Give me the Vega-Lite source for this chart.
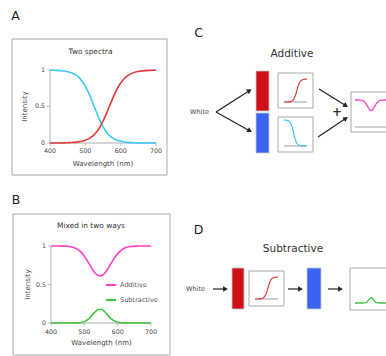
{
 "$schema": "https://vega.github.io/schema/vega-lite/v6.json",
 "width": 386, "height": 356, "autosize": {"type": "none"}, "padding": 0,
 "background": "white",
 "config": {"view": {"stroke": null}, "font": "DejaVu Sans"},
 "datasets": {
  "spec": [
   {"w":400,"red":0.000,"blue":0.998,"Additive":1.000,"Subtractive":0.000},
   {"w":410,"red":0.001,"blue":0.997,"Additive":1.000,"Subtractive":0.000},
   {"w":420,"red":0.001,"blue":0.995,"Additive":1.000,"Subtractive":0.000},
   {"w":430,"red":0.001,"blue":0.991,"Additive":0.999,"Subtractive":0.000},
   {"w":440,"red":0.002,"blue":0.986,"Additive":0.999,"Subtractive":0.000},
   {"w":450,"red":0.004,"blue":0.977,"Additive":0.996,"Subtractive":0.000},
   {"w":460,"red":0.006,"blue":0.963,"Additive":0.990,"Subtractive":0.000},
   {"w":470,"red":0.009,"blue":0.940,"Additive":0.978,"Subtractive":0.000},
   {"w":480,"red":0.015,"blue":0.905,"Additive":0.956,"Subtractive":0.002},
   {"w":490,"red":0.024,"blue":0.852,"Additive":0.920,"Subtractive":0.006},
   {"w":500,"red":0.038,"blue":0.777,"Additive":0.867,"Subtractive":0.018},
   {"w":510,"red":0.060,"blue":0.679,"Additive":0.800,"Subtractive":0.044},
   {"w":520,"red":0.092,"blue":0.562,"Additive":0.727,"Subtractive":0.085},
   {"w":530,"red":0.141,"blue":0.438,"Additive":0.661,"Subtractive":0.134},
   {"w":540,"red":0.209,"blue":0.321,"Additive":0.619,"Subtractive":0.171},
   {"w":550,"red":0.298,"blue":0.223,"Additive":0.612,"Subtractive":0.178},
   {"w":560,"red":0.406,"blue":0.148,"Additive":0.641,"Subtractive":0.151},
   {"w":570,"red":0.524,"blue":0.095,"Additive":0.699,"Subtractive":0.104},
   {"w":580,"red":0.639,"blue":0.060,"Additive":0.771,"Subtractive":0.058},
   {"w":590,"red":0.740,"blue":0.037,"Additive":0.842,"Subtractive":0.027},
   {"w":600,"red":0.821,"blue":0.023,"Additive":0.901,"Subtractive":0.010},
   {"w":610,"red":0.881,"blue":0.014,"Additive":0.944,"Subtractive":0.003},
   {"w":620,"red":0.922,"blue":0.009,"Additive":0.971,"Subtractive":0.001},
   {"w":630,"red":0.950,"blue":0.005,"Additive":0.986,"Subtractive":0.000},
   {"w":640,"red":0.969,"blue":0.003,"Additive":0.994,"Subtractive":0.000},
   {"w":650,"red":0.980,"blue":0.002,"Additive":0.998,"Subtractive":0.000},
   {"w":660,"red":0.988,"blue":0.001,"Additive":0.999,"Subtractive":0.000},
   {"w":670,"red":0.992,"blue":0.001,"Additive":1.000,"Subtractive":0.000},
   {"w":680,"red":0.995,"blue":0.000,"Additive":1.000,"Subtractive":0.000},
   {"w":690,"red":0.997,"blue":0.000,"Additive":1.000,"Subtractive":0.000},
   {"w":700,"red":0.998,"blue":0.000,"Additive":1.000,"Subtractive":0.000}
  ],
  "wticks": [{"w":400},{"w":500},{"w":600},{"w":700}],
  "vticks": [{"v":0},{"v":0.5},{"v":1}]
 },
 "resolve": {"scale": {"x": "independent", "y": "independent", "color": "independent"}},
 "layer": [
  {
   "layer": [
    {"data": {"values": [{"x":12,"x2":167,"y":39,"y2":175},{"x":13,"x2":170,"y":214,"y2":355}]},
     "mark": {"type": "rect", "fill": null, "stroke": "#aaaaaa", "strokeWidth": 1},
     "encoding": {"x": {"field":"x","type":"quantitative","scale":{"domain":[0,386],"nice":false,"zero":false},"axis":null}, "x2": {"field":"x2"}, "y": {"field":"y","type":"quantitative","scale":{"domain":[0,356],"reverse":true,"nice":false,"zero":false},"axis":null}, "y2": {"field":"y2"}}},
    {"data": {"values": [{"x":278,"x2":313,"y":73,"y2":108},{"x":278,"x2":313,"y":117,"y2":152},{"x":351,"x2":395,"y":92,"y2":132},{"x":249,"x2":284,"y":271,"y2":306},{"x":350,"x2":395,"y":268,"y2":310}]},
     "mark": {"type": "rect", "fill": "white", "stroke": "#aaaaaa", "strokeWidth": 1},
     "encoding": {"x": {"field":"x","type":"quantitative","scale":{"domain":[0,386],"nice":false,"zero":false},"axis":null}, "x2": {"field":"x2"}, "y": {"field":"y","type":"quantitative","scale":{"domain":[0,356],"reverse":true,"nice":false,"zero":false},"axis":null}, "y2": {"field":"y2"}}},
    {"data": {"values": [{"x":256,"x2":269,"y":71,"y2":111},{"x":232,"x2":244,"y":268,"y2":309}]},
     "mark": {"type": "rect", "fill": "#d10f19", "stroke": "#c8c8c8", "strokeWidth": 0.8},
     "encoding": {"x": {"field":"x","type":"quantitative","scale":{"domain":[0,386],"nice":false,"zero":false},"axis":null}, "x2": {"field":"x2"}, "y": {"field":"y","type":"quantitative","scale":{"domain":[0,356],"reverse":true,"nice":false,"zero":false},"axis":null}, "y2": {"field":"y2"}}},
    {"data": {"values": [{"x":256,"x2":269,"y":113,"y2":153},{"x":307,"x2":321,"y":268,"y2":309}]},
     "mark": {"type": "rect", "fill": "#3b63f3", "stroke": "#c8c8c8", "strokeWidth": 0.8},
     "encoding": {"x": {"field":"x","type":"quantitative","scale":{"domain":[0,386],"nice":false,"zero":false},"axis":null}, "x2": {"field":"x2"}, "y": {"field":"y","type":"quantitative","scale":{"domain":[0,356],"reverse":true,"nice":false,"zero":false},"axis":null}, "y2": {"field":"y2"}}},
    {"data": {"values": [{"x":216,"y":112,"x2":250,"y2":90.3},{"x":216,"y":112,"x2":250,"y2":130.9},{"x":319,"y":89,"x2":346,"y2":105.8},{"x":318,"y":137,"x2":346,"y2":118.3},{"x":213,"y":289,"x2":226,"y2":289},{"x":288,"y":289,"x2":301,"y2":289},{"x":328,"y":289,"x2":341,"y2":289}]},
     "mark": {"type": "rule", "color": "#222222", "strokeWidth": 1.2},
     "encoding": {"x": {"field":"x","type":"quantitative","scale":{"domain":[0,386],"nice":false,"zero":false},"axis":null}, "x2": {"field":"x2"}, "y": {"field":"y","type":"quantitative","scale":{"domain":[0,356],"reverse":true,"nice":false,"zero":false},"axis":null}, "y2": {"field":"y2"}}},
    {"data": {"values": [{"x":249.5,"y":90.6,"a":-32.6},{"x":249.8,"y":130.8,"a":29.1},{"x":345.9,"y":105.7,"a":31.8},{"x":345.9,"y":118.4,"a":-33.7},{"x":225.5,"y":289,"a":0},{"x":300.5,"y":289,"a":0},{"x":340.5,"y":289,"a":0}]},
     "mark": {"type": "point", "shape": "triangle-right", "filled": true, "size": 30, "color": "#222222", "opacity": 1},
     "encoding": {"x": {"field":"x","type":"quantitative","scale":{"domain":[0,386],"nice":false,"zero":false},"axis":null}, "y": {"field":"y","type":"quantitative","scale":{"domain":[0,356],"reverse":true,"nice":false,"zero":false},"axis":null}, "angle": {"field":"a","type":"quantitative","scale":null}}},
    {"data": {"values": [{"x":15.5,"y":15.5,"t":"A"},{"x":16,"y":199.5,"t":"B"},{"x":198.5,"y":33,"t":"C"},{"x":198.5,"y":229.5,"t":"D"}]},
     "mark": {"type": "text", "font": "DejaVu Sans", "fontSize": 12.5, "color": "#222222", "align": "center", "baseline": "middle"},
     "encoding": {"x": {"field":"x","type":"quantitative","scale":{"domain":[0,386],"nice":false,"zero":false},"axis":null}, "y": {"field":"y","type":"quantitative","scale":{"domain":[0,356],"reverse":true,"nice":false,"zero":false},"axis":null}, "text": {"field":"t"}}},
    {"data": {"values": [{"x":292,"y":54,"t":"Additive"},{"x":293,"y":249,"t":"Subtractive"}]},
     "mark": {"type": "text", "font": "DejaVu Sans", "fontSize": 10.5, "color": "#333333", "align": "center", "baseline": "middle"},
     "encoding": {"x": {"field":"x","type":"quantitative","scale":{"domain":[0,386],"nice":false,"zero":false},"axis":null}, "y": {"field":"y","type":"quantitative","scale":{"domain":[0,356],"reverse":true,"nice":false,"zero":false},"axis":null}, "text": {"field":"t"}}},
    {"data": {"values": [{"x":90.5,"y":52,"t":"Two spectra"},{"x":91,"y":226,"t":"Mixed in two ways"}]},
     "mark": {"type": "text", "font": "DejaVu Sans", "fontSize": 7.4, "color": "#333333", "align": "center", "baseline": "middle"},
     "encoding": {"x": {"field":"x","type":"quantitative","scale":{"domain":[0,386],"nice":false,"zero":false},"axis":null}, "y": {"field":"y","type":"quantitative","scale":{"domain":[0,356],"reverse":true,"nice":false,"zero":false},"axis":null}, "text": {"field":"t"}}},
    {"data": {"values": [{"x":103,"y":164,"t":"Wavelength (nm)"},{"x":101.5,"y":343,"t":"Wavelength (nm)"}]},
     "mark": {"type": "text", "font": "DejaVu Sans", "fontSize": 7, "color": "#444444", "align": "center", "baseline": "middle"},
     "encoding": {"x": {"field":"x","type":"quantitative","scale":{"domain":[0,386],"nice":false,"zero":false},"axis":null}, "y": {"field":"y","type":"quantitative","scale":{"domain":[0,356],"reverse":true,"nice":false,"zero":false},"axis":null}, "text": {"field":"t"}}},
    {"data": {"values": [{"x":25,"y":106.5,"t":"Intensity"},{"x":27.5,"y":284.5,"t":"Intensity"}]},
     "mark": {"type": "text", "font": "DejaVu Sans", "fontSize": 7, "color": "#444444", "align": "center", "baseline": "middle", "angle": 270},
     "encoding": {"x": {"field":"x","type":"quantitative","scale":{"domain":[0,386],"nice":false,"zero":false},"axis":null}, "y": {"field":"y","type":"quantitative","scale":{"domain":[0,356],"reverse":true,"nice":false,"zero":false},"axis":null}, "text": {"field":"t"}}},
    {"data": {"values": [{"x":199.5,"y":112,"t":"White"},{"x":195.5,"y":289,"t":"White"}]},
     "mark": {"type": "text", "font": "DejaVu Sans", "fontSize": 6.5, "color": "#444444", "align": "center", "baseline": "middle"},
     "encoding": {"x": {"field":"x","type":"quantitative","scale":{"domain":[0,386],"nice":false,"zero":false},"axis":null}, "y": {"field":"y","type":"quantitative","scale":{"domain":[0,356],"reverse":true,"nice":false,"zero":false},"axis":null}, "text": {"field":"t"}}},
    {"data": {"values": [{"x":337,"y":112,"t":"+"}]},
     "mark": {"type": "text", "font": "DejaVu Sans", "fontSize": 12, "fontWeight": "bold", "color": "#333333", "align": "center", "baseline": "middle"},
     "encoding": {"x": {"field":"x","type":"quantitative","scale":{"domain":[0,386],"nice":false,"zero":false},"axis":null}, "y": {"field":"y","type":"quantitative","scale":{"domain":[0,356],"reverse":true,"nice":false,"zero":false},"axis":null}, "text": {"field":"t"}}}
   ]
  },
  {
   "layer": [
    {"data": {"values": [{}]}, "mark": {"type": "rule", "color": "#c8c8c8", "strokeWidth": 1.5},
     "encoding": {"x": {"datum":400,"type":"quantitative","scale":{"domain":[258.49,1350.94],"nice":false,"zero":false},"axis":null}, "x2": {"datum":700}, "y": {"datum":0,"type":"quantitative","scale":{"domain":[-2.9178,1.9589],"nice":false,"zero":false},"axis":null}}},
    {"data": {"values": [{}]}, "mark": {"type": "rule", "color": "#b4b4b4", "strokeWidth": 1},
     "encoding": {"x": {"datum":400,"type":"quantitative","scale":{"domain":[258.49,1350.94],"nice":false,"zero":false},"axis":null}, "y": {"datum":0,"type":"quantitative","scale":{"domain":[-2.9178,1.9589],"nice":false,"zero":false},"axis":null}, "y2": {"datum":1}}},
    {"data": {"name": "wticks"}, "mark": {"type": "tick", "orient": "vertical", "size": 3, "thickness": 1, "color": "#a8a8a8", "yOffset": 1.5},
     "encoding": {"x": {"field":"w","type":"quantitative","scale":{"domain":[258.49,1350.94],"nice":false,"zero":false},"axis":null}, "y": {"datum":0,"type":"quantitative","scale":{"domain":[-2.9178,1.9589],"nice":false,"zero":false},"axis":null}}},
    {"data": {"name": "wticks"}, "mark": {"type": "text", "fontSize": 6.3, "color": "#444444", "align": "center", "baseline": "middle", "dy": 8},
     "encoding": {"x": {"field":"w","type":"quantitative","scale":{"domain":[258.49,1350.94],"nice":false,"zero":false},"axis":null}, "y": {"datum":0,"type":"quantitative","scale":{"domain":[-2.9178,1.9589],"nice":false,"zero":false},"axis":null}, "text": {"field":"w","type":"quantitative","format":"d"}}},
    {"data": {"name": "vticks"}, "mark": {"type": "tick", "orient": "horizontal", "size": 3, "thickness": 1, "color": "#a8a8a8", "xOffset": -1.5},
     "encoding": {"x": {"datum":400,"type":"quantitative","scale":{"domain":[258.49,1350.94],"nice":false,"zero":false},"axis":null}, "y": {"field":"v","type":"quantitative","scale":{"domain":[-2.9178,1.9589],"nice":false,"zero":false},"axis":null}}},
    {"data": {"name": "vticks"}, "mark": {"type": "text", "fontSize": 6.3, "color": "#444444", "align": "right", "baseline": "middle", "dx": -5},
     "encoding": {"x": {"datum":400,"type":"quantitative","scale":{"domain":[258.49,1350.94],"nice":false,"zero":false},"axis":null}, "y": {"field":"v","type":"quantitative","scale":{"domain":[-2.9178,1.9589],"nice":false,"zero":false},"axis":null}, "text": {"field":"v","type":"quantitative","format":"~g"}}},
    {"data": {"name": "spec"}, "mark": {"type": "line", "color": "#3cc8f5", "strokeWidth": 1.6, "interpolate": "monotone"},
     "encoding": {"x": {"field":"w","type":"quantitative","scale":{"domain":[258.49,1350.94],"nice":false,"zero":false},"axis":null}, "y": {"field":"blue","type":"quantitative","scale":{"domain":[-2.9178,1.9589],"nice":false,"zero":false},"axis":null}}},
    {"data": {"name": "spec"}, "mark": {"type": "line", "color": "#e23a3a", "strokeWidth": 1.6, "interpolate": "monotone"},
     "encoding": {"x": {"field":"w","type":"quantitative","scale":{"domain":[258.49,1350.94],"nice":false,"zero":false},"axis":null}, "y": {"field":"red","type":"quantitative","scale":{"domain":[-2.9178,1.9589],"nice":false,"zero":false},"axis":null}}}
   ]
  },
  {
   "layer": [
    {"data": {"values": [{}]}, "mark": {"type": "rule", "color": "#c8c8c8", "strokeWidth": 1.5},
     "encoding": {"x": {"datum":400,"type":"quantitative","scale":{"domain":[247,1405],"nice":false,"zero":false},"axis":null}, "x2": {"datum":700}, "y": {"datum":0,"type":"quantitative","scale":{"domain":[-0.42857,4.19481],"nice":false,"zero":false},"axis":null}}},
    {"data": {"values": [{}]}, "mark": {"type": "rule", "color": "#b4b4b4", "strokeWidth": 1},
     "encoding": {"x": {"datum":400,"type":"quantitative","scale":{"domain":[247,1405],"nice":false,"zero":false},"axis":null}, "y": {"datum":0,"type":"quantitative","scale":{"domain":[-0.42857,4.19481],"nice":false,"zero":false},"axis":null}, "y2": {"datum":1}}},
    {"data": {"name": "wticks"}, "mark": {"type": "tick", "orient": "vertical", "size": 3, "thickness": 1, "color": "#a8a8a8", "yOffset": 1.5},
     "encoding": {"x": {"field":"w","type":"quantitative","scale":{"domain":[247,1405],"nice":false,"zero":false},"axis":null}, "y": {"datum":0,"type":"quantitative","scale":{"domain":[-0.42857,4.19481],"nice":false,"zero":false},"axis":null}}},
    {"data": {"name": "wticks"}, "mark": {"type": "text", "fontSize": 6.3, "color": "#444444", "align": "center", "baseline": "middle", "dy": 9},
     "encoding": {"x": {"field":"w","type":"quantitative","scale":{"domain":[247,1405],"nice":false,"zero":false},"axis":null}, "y": {"datum":0,"type":"quantitative","scale":{"domain":[-0.42857,4.19481],"nice":false,"zero":false},"axis":null}, "text": {"field":"w","type":"quantitative","format":"d"}}},
    {"data": {"name": "vticks"}, "mark": {"type": "tick", "orient": "horizontal", "size": 3, "thickness": 1, "color": "#a8a8a8", "xOffset": -1.5},
     "encoding": {"x": {"datum":400,"type":"quantitative","scale":{"domain":[247,1405],"nice":false,"zero":false},"axis":null}, "y": {"field":"v","type":"quantitative","scale":{"domain":[-0.42857,4.19481],"nice":false,"zero":false},"axis":null}}},
    {"data": {"name": "vticks"}, "mark": {"type": "text", "fontSize": 6.3, "color": "#444444", "align": "right", "baseline": "middle", "dx": -5},
     "encoding": {"x": {"datum":400,"type":"quantitative","scale":{"domain":[247,1405],"nice":false,"zero":false},"axis":null}, "y": {"field":"v","type":"quantitative","scale":{"domain":[-0.42857,4.19481],"nice":false,"zero":false},"axis":null}, "text": {"field":"v","type":"quantitative","format":"~g"}}},
    {"data": {"name": "spec"}, "transform": [{"fold": ["Additive", "Subtractive"], "as": ["series", "v"]}],
     "mark": {"type": "line", "strokeWidth": 1.6, "interpolate": "monotone"},
     "encoding": {"x": {"field":"w","type":"quantitative","scale":{"domain":[247,1405],"nice":false,"zero":false},"axis":null}, "y": {"field":"v","type":"quantitative","scale":{"domain":[-0.42857,4.19481],"nice":false,"zero":false},"axis":null},
      "color": {"field":"series","type":"nominal","scale":{"domain":["Additive","Subtractive"],"range":["#ff3fc8","#3ec43e"]},"legend":{"orient":"none","legendX":105,"legendY":279,"direction":"vertical","title":null,"symbolType":"stroke","symbolStrokeWidth":2,"symbolSize":100,"labelFont":"DejaVu Sans","labelFontSize":6.6,"labelColor":"#555555","labelOffset":3,"rowPadding":5,"padding":0}}}}
   ]
  },
  {
   "layer": [
    {"data": {"values": [{}]}, "mark": {"type": "rule", "color": "#a0a0a0", "strokeWidth": 1},
     "encoding": {"x": {"datum":400,"type":"quantitative","scale":{"domain":[-3304.3,1730.5],"nice":false,"zero":false},"axis":null}, "x2": {"datum":700}, "y": {"datum":0,"type":"quantitative","scale":{"domain":[-11.0435,4.43478],"nice":false,"zero":false},"axis":null}}},
    {"data": {"name": "spec"}, "mark": {"type": "line", "color": "#e23a3a", "strokeWidth": 1.2, "interpolate": "monotone"},
     "encoding": {"x": {"field":"w","type":"quantitative","scale":{"domain":[-3304.3,1730.5],"nice":false,"zero":false},"axis":null}, "y": {"field":"red","type":"quantitative","scale":{"domain":[-11.0435,4.43478],"nice":false,"zero":false},"axis":null}}}
   ]
  },
  {
   "layer": [
    {"data": {"values": [{}]}, "mark": {"type": "rule", "color": "#a0a0a0", "strokeWidth": 1},
     "encoding": {"x": {"datum":400,"type":"quantitative","scale":{"domain":[-3304.3,1730.5],"nice":false,"zero":false},"axis":null}, "x2": {"datum":700}, "y": {"datum":0,"type":"quantitative","scale":{"domain":[-8.0769,5.6154],"nice":false,"zero":false},"axis":null}}},
    {"data": {"name": "spec"}, "mark": {"type": "line", "color": "#3cc8f5", "strokeWidth": 1.2, "interpolate": "monotone"},
     "encoding": {"x": {"field":"w","type":"quantitative","scale":{"domain":[-3304.3,1730.5],"nice":false,"zero":false},"axis":null}, "y": {"field":"blue","type":"quantitative","scale":{"domain":[-8.0769,5.6154],"nice":false,"zero":false},"axis":null}}}
   ]
  },
  {
   "layer": [
    {"data": {"values": [{}]}, "mark": {"type": "rule", "color": "#a0a0a0", "strokeWidth": 1},
     "encoding": {"x": {"datum":400,"type":"quantitative","scale":{"domain":[-2827.27,681.82],"nice":false,"zero":false},"axis":null}, "x2": {"datum":700}, "y": {"datum":0,"type":"quantitative","scale":{"domain":[-8.4815,4.7037],"nice":false,"zero":false},"axis":null}}},
    {"data": {"name": "spec"}, "mark": {"type": "line", "color": "#ff3fc8", "strokeWidth": 1.3, "interpolate": "monotone"},
     "encoding": {"x": {"field":"w","type":"quantitative","scale":{"domain":[-2827.27,681.82],"nice":false,"zero":false},"axis":null}, "y": {"field":"Additive","type":"quantitative","scale":{"domain":[-8.4815,4.7037],"nice":false,"zero":false},"axis":null}}}
   ]
  },
  {
   "layer": [
    {"data": {"values": [{}]}, "mark": {"type": "rule", "color": "#a0a0a0", "strokeWidth": 1},
     "encoding": {"x": {"datum":400,"type":"quantitative","scale":{"domain":[-2926.1,2108.7],"nice":false,"zero":false},"axis":null}, "x2": {"datum":700}, "y": {"datum":0,"type":"quantitative","scale":{"domain":[-2.5909,13.5909],"nice":false,"zero":false},"axis":null}}},
    {"data": {"name": "spec"}, "mark": {"type": "line", "color": "#e23a3a", "strokeWidth": 1.2, "interpolate": "monotone"},
     "encoding": {"x": {"field":"w","type":"quantitative","scale":{"domain":[-2926.1,2108.7],"nice":false,"zero":false},"axis":null}, "y": {"field":"red","type":"quantitative","scale":{"domain":[-2.5909,13.5909],"nice":false,"zero":false},"axis":null}}}
   ]
  },
  {
   "data": {"name": "spec"},
   "mark": {"type": "line", "color": "#3ec43e", "strokeWidth": 1.3, "interpolate": "monotone"},
   "encoding": {"x": {"field":"w","type":"quantitative","scale":{"domain":[-2827.27,681.82],"nice":false,"zero":false},"axis":null}, "y": {"field":"Subtractive","type":"quantitative","scale":{"domain":[-1.7667,10.1],"nice":false,"zero":false},"axis":null}}
  }
 ]
}
